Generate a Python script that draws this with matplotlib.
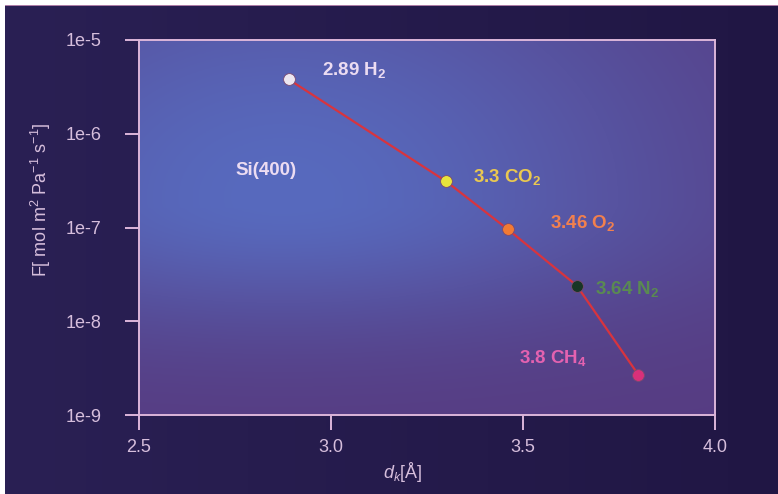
import numpy as np
import matplotlib.pyplot as plt
from matplotlib.ticker import FixedLocator, FixedFormatter, NullLocator

plt.rcParams['font.family'] = ['Liberation Sans', 'DejaVu Sans']
plt.rcParams['mathtext.fontset'] = 'custom'
plt.rcParams['mathtext.rm'] = 'Liberation Sans'
plt.rcParams['mathtext.it'] = 'Liberation Sans:italic'
plt.rcParams['mathtext.bf'] = 'Liberation Sans:bold'
plt.rcParams['mathtext.default'] = 'regular'

# kinetic diameter (Å) and permeance of each gas
gases = ['H_2', 'CO_2', 'O_2', 'N_2', 'CH_4']
d_k = [2.89, 3.3, 3.46, 3.64, 3.8]
flux = [3.8e-6, 3.1e-7, 9.6e-8, 2.4e-8, 2.7e-9]
xticks = [2.5, 3.0, 3.5, 4.0]
xtick_labels = ['2.5', '3.0', '3.5', '4.0']
yticks = [1e-9, 1e-8, 1e-7, 1e-6, 1e-5]
ytick_labels = ['1e-9', '1e-8', '1e-7', '1e-6', '1e-5']
membrane = 'Si(400)'

marker_colors = ['#ece6f0', '#e8e43c', '#f27a34', '#183626', '#d8307a']
label_colors = ['#ecdcf2', '#eac850', '#f2804e', '#5a8a52', '#e462b0']
label_offsets = [(33, 9), (27, 4), (42, 6), (18, -3), (-119, 17)]  # pixels

frame = '#dcb6da'
text_col = '#d6bedc'

fig = plt.figure(figsize=(7.78, 4.94), dpi=100, facecolor='white')

# dark backdrop with a soft left-to-right shading
bg = fig.add_axes([5 / 778, 0, 773 / 778, 489 / 494])
u = np.linspace(0, 1, 200)[None, :]
v = np.linspace(0, 1, 120)[:, None]
left = np.array([42, 32, 84]) / 255
right = np.array([30, 20, 64]) / 255
t = (u * 0.8 + v * 0.0)[..., None]
bg.imshow(left * (1 - t) + right * t, extent=(0, 1, 0, 1), aspect='auto', origin='lower')
bg.set_xlim(0, 1)
bg.set_ylim(0, 1)
bg.axis('off')
bg.axhline(1, color='#c890b8', lw=1.2)

# plot area shading: blue glow on the left, purple toward bottom/right
pos = [139 / 778, 79 / 494, 576 / 778, 375 / 494]
shade = fig.add_axes(pos)
uu = np.linspace(0, 1, 300)[None, :]
vv = np.linspace(0, 1, 200)[:, None]
sv = np.where(vv > 0.55, 0.75, 0.34)
w = np.exp(-((uu - 0.25) / 0.7) ** 2 - ((vv - 0.58) / sv) ** 2)
blue = np.array([88, 106, 190]) / 255
purple = np.array([86, 60, 130]) / 255
img = purple + w[..., None] * (blue - purple)
shade.imshow(img, extent=(0, 1, 0, 1), aspect='auto', origin='lower')
shade.axis('off')

ax = fig.add_axes(pos)
ax.set_facecolor('none')
ax.set_yscale('log')
ax.set_xlim(2.5, 4.0)
ax.set_ylim(1e-9, 1e-5)

ax.plot(d_k, flux, color='#d8343e', lw=1.6, zorder=2)
for x, y, mc in zip(d_k, flux, marker_colors):
    ax.plot(x, y, 'o', ms=8.5, mfc=mc, mec='#7a4a70', mew=0.6, zorder=3)

for x, y, g, lc, off in zip(d_k, flux, gases, label_colors, label_offsets):
    ax.annotate(r'$\mathbf{%s\ %s}$' % (x, g), (x, y), xytext=off,
                textcoords='offset pixels', color=lc, fontsize=13.5,
                ha='left', va='center')

ax.text(0.168, 0.653, membrane, transform=ax.transAxes, color='#ecdcf2',
        fontsize=13.5, fontweight='bold', ha='left', va='center')

ax.xaxis.set_major_locator(FixedLocator(xticks))
ax.xaxis.set_major_formatter(FixedFormatter(xtick_labels))
ax.yaxis.set_major_locator(FixedLocator(yticks))
ax.yaxis.set_major_formatter(FixedFormatter(ytick_labels))
ax.yaxis.set_minor_locator(NullLocator())

for s in ax.spines.values():
    s.set_color(frame)
    s.set_linewidth(1.4)
ax.tick_params(axis='x', direction='out', length=11, width=1.4, color=frame,
               labelcolor=text_col, labelsize=13, pad=6)
ax.tick_params(axis='y', direction='out', length=10, width=1.4, color=frame,
               labelcolor=text_col, labelsize=13, pad=17)

ax.set_xlabel(r'$\mathit{d_k}$[Å]', fontsize=13, color=text_col)
ax.xaxis.set_label_coords(0.458, -0.12)
ax.set_ylabel(r'F[ mol m$^2$ Pa$^{-1}$ s$^{-1}$]', fontsize=13, color=text_col)
ax.yaxis.set_label_coords(-0.149, 0.573)

fig.savefig('out.png', dpi=100, facecolor=fig.get_facecolor())
